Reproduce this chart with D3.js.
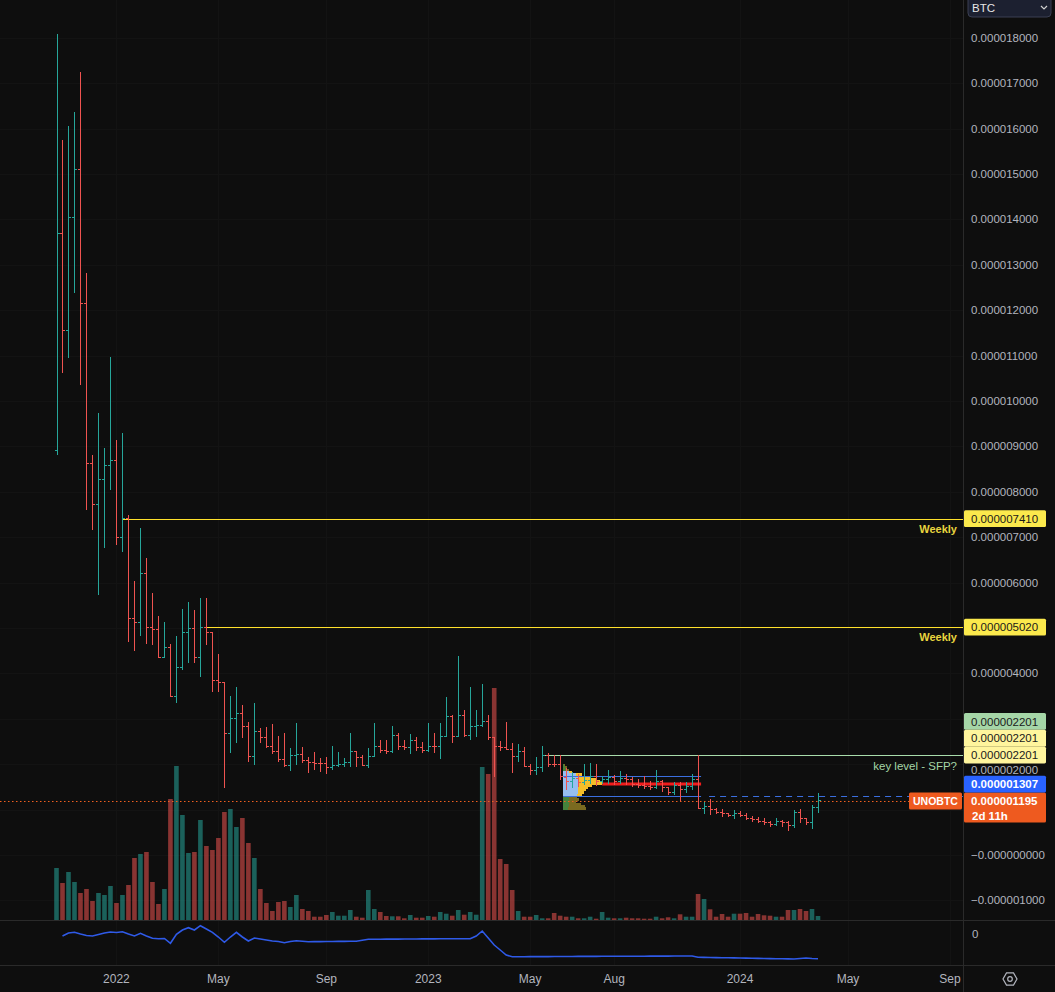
<!DOCTYPE html>
<html><head><meta charset="utf-8">
<script src="https://cdn.jsdelivr.net/npm/d3@7/dist/d3.min.js"></script>
<style>
html,body{margin:0;padding:0;background:#0e0e0e;overflow:hidden}
svg{display:block}
text{font-family:"Liberation Sans",Arial,sans-serif}
</style></head><body>
<svg id="c" width="1055" height="992"></svg>
<script>
// ---------- DATA (prices in units of 1e-6 BTC, weekly bars) ----------
const firstWeek = "2021-10-25";
const open = [8.92,13.70,11.56,14.05,15.11,12.14,8.63,7.71,8.26,8.59,8.70,7.00,7.42,5.22,5.13,6.19,5.02,4.96,4.36,4.56,
3.50,4.12,4.91,5.00,4.36,5.02,4.89,3.85,3.81,2.67,3.00,3.11,2.82,2.16,2.71,2.58,2.40,2.29,2.11,1.98,
2.20,2.22,2.09,2.03,2.02,2.01,1.92,1.98,2.00,2.03,2.27,2.14,1.98,2.16,2.38,2.31,2.27,2.64,2.38,2.36,
2.53,2.36,2.31,2.40,2.38,2.62,3.04,2.60,3.08,2.64,2.82,2.86,2.93,2.58,2.38,2.36,2.33,2.18,2.27,1.96,
1.87,1.92,2.20,2.00,1.99,1.718,1.608,1.696,1.586,1.630,1.740,1.608,1.652,1.718,1.608,1.696,1.652,1.542,1.520,1.498,
1.476,1.608,1.476,1.366,1.520,1.432,1.498,1.652,1.035,1.079,1.013,0.947,0.925,0.881,0.925,0.881,0.793,0.782,0.727,0.705,
0.661,0.727,0.705,0.639,0.947,0.793,0.705,1.057];
const high = [18.08,15.75,16.06,16.37,17.25,12.82,8.81,9.74,8.96,10.97,9.14,9.30,7.49,6.04,7.20,6.54,5.77,5.26,5.13,4.65,
4.82,5.42,5.57,5.40,5.66,5.66,4.91,4.43,3.81,3.50,3.70,3.30,2.93,3.35,2.80,2.82,2.89,2.62,2.69,2.36,
2.91,2.38,2.16,2.27,2.14,2.16,2.40,2.27,2.14,2.69,2.29,2.20,2.36,2.91,2.53,2.53,2.84,2.69,2.53,2.67,
2.60,2.49,2.91,2.69,2.91,3.48,3.08,4.38,3.19,3.70,3.19,3.77,3.08,2.58,2.51,2.93,2.47,2.44,2.38,2.00,
2.16,2.40,2.25,2.20,2.20,1.916,1.828,1.784,2.004,2.026,2.004,1.740,1.872,1.762,1.850,1.784,1.718,1.674,1.740,1.630,
1.872,1.652,1.498,1.608,1.608,1.608,1.784,2.203,1.167,1.233,1.035,1.013,0.925,0.991,0.969,0.925,0.859,0.837,0.815,0.749,
0.815,0.771,0.749,0.991,1.013,0.815,1.101,1.366];
const low = [8.81,10.62,10.95,12.38,10.35,7.60,7.16,5.73,6.76,8.04,6.83,6.67,4.69,4.49,4.82,4.65,4.63,4.34,4.34,3.48,
3.35,4.07,4.23,4.23,3.92,4.63,3.59,3.59,1.48,2.25,2.47,2.58,2.05,1.98,2.47,2.36,2.22,2.05,1.94,1.85,
1.98,2.03,1.81,1.87,1.83,1.78,1.87,1.94,1.94,1.94,1.94,1.96,1.92,2.16,2.25,2.22,2.25,2.31,2.31,2.22,
2.29,2.25,2.27,2.25,2.11,2.60,2.47,2.60,2.60,2.53,2.60,2.82,2.53,1.72,2.29,2.31,1.81,2.05,1.94,1.76,
1.76,1.83,1.94,1.94,1.65,1.432,1.476,1.498,1.542,1.564,1.520,1.564,1.564,1.542,1.564,1.542,1.498,1.476,1.454,1.432,
1.454,1.388,1.322,1.322,1.167,1.366,1.432,1.013,0.903,0.881,0.903,0.837,0.837,0.793,0.837,0.771,0.727,0.705,0.661,0.617,
0.639,0.617,0.529,0.595,0.705,0.661,0.573,0.925];
const close = [13.70,11.56,14.05,15.11,12.14,8.63,7.71,8.26,8.59,8.70,7.00,7.42,5.22,5.13,6.19,5.02,4.96,4.36,4.56,3.50,
4.12,4.91,5.00,4.36,5.02,4.89,3.85,3.81,2.67,3.00,3.11,2.82,2.16,2.71,2.58,2.40,2.29,2.11,1.98,2.20,
2.22,2.09,2.03,2.02,2.01,1.92,1.98,2.00,2.03,2.27,2.14,1.98,2.16,2.38,2.31,2.27,2.64,2.38,2.36,2.53,
2.36,2.31,2.40,2.38,2.62,3.04,2.60,3.08,2.64,2.82,2.86,2.93,2.58,2.38,2.36,2.33,2.18,2.27,1.96,1.87,
1.92,2.20,2.00,1.99,1.72,1.608,1.696,1.586,1.630,1.740,1.608,1.652,1.718,1.608,1.696,1.652,1.542,1.520,1.498,1.476,
1.608,1.476,1.366,1.520,1.432,1.498,1.652,1.035,1.079,1.013,0.947,0.925,0.881,0.925,0.881,0.793,0.782,0.727,0.705,0.661,
0.727,0.705,0.639,0.947,0.793,0.705,1.057,1.195];
const volume = [53,38,49,39,28,32,20,28,26,35,18,26,36,63,67,69,39,17,32,122,
155,106,68,69,101,75,71,83,109,112,94,103,78,63,32,18,10,19,20,14,
26,12,10,4.3,4.3,6,9,5.3,5.3,11,4.3,3.3,31,12,9,5,4.7,4.7,2.7,6,
3.3,3.3,5,4.3,9,7.3,5.3,11,6.3,9,6.3,154,147,233,62,57,31,10,4.3,4.3,
6,2.7,2.7,8,5.3,4.3,4.3,2.7,2.7,4.3,2.3,9,3.3,2.7,2.7,3.3,2.7,2.7,2.3,2.3,
4.3,2.7,3.7,2.7,6.7,4.3,4.3,27,22,11.7,4.3,7,4.3,7.3,7.3,8,4.3,7,5.7,5.3,
4.3,4.3,11,11,12,10,12,5];
const indicator = [null,-0.30,0.00,0.07,-0.10,-0.25,-0.30,-0.15,0.00,0.10,0.05,0.13,-0.10,-0.30,-0.03,-0.30,-0.53,-0.57,-0.55,-1.03,
-0.13,0.30,0.53,0.30,0.73,0.40,0.07,-0.40,-0.93,-0.40,0.07,-0.40,-0.80,-0.50,-0.60,-0.70,-0.80,-0.85,-0.97,-0.85,
-0.77,-0.82,-0.87,-0.86,-0.86,-0.85,-0.85,-0.84,-0.84,-0.83,-0.83,-0.73,-0.63,-0.62,-0.62,-0.61,-0.61,-0.61,-0.60,-0.60,
-0.60,-0.59,-0.59,-0.59,-0.58,-0.58,-0.58,-0.57,-0.57,-0.57,-0.30,0.20,-0.50,-1.20,-1.70,-2.20,-2.37,-2.37,-2.37,-2.36,
-2.36,-2.36,-2.36,-2.35,-2.35,-2.35,-2.35,-2.34,-2.34,-2.34,-2.34,-2.33,-2.33,-2.33,-2.33,-2.32,-2.32,-2.32,-2.32,-2.31,
-2.31,-2.31,-2.31,-2.30,-2.30,-2.30,-2.30,-2.43,-2.44,-2.45,-2.46,-2.47,-2.48,-2.49,-2.50,-2.51,-2.52,-2.54,-2.55,-2.56,
-2.57,-2.58,-2.59,-2.60,-2.55,-2.50,-2.55,-2.57];
const priceTicks = d3.range(-1, 19);
const timeTickDates = ["2022-01-03","2022-05-02","2022-09-05","2023-01-02","2023-05-01","2023-08-07","2024-01-01","2024-05-06","2024-09-02"];
const timeTickLabels = ["2022","May","Sep","2023","May","Aug","2024","May","Sep"];
const weeklyLevels = [7.41, 5.02];
const weeklyStartBar = [11, 25];
const keyLevel = 2.201, keyStartBar = 81;
const profileStartBar = 85, profileEndBar = 107;
const vah = 1.74, poc = 1.564, val = 1.307, lastPrice = 1.195;
const profileLevels = [1.975,1.925,1.875,1.825,1.775,1.725,1.675,1.625,1.575,1.525,1.475,1.425,1.375,1.325,1.275,1.225,1.175,1.125,1.075,1.025];
const profileUp   = [1,2,3,6,13,15,15,15,15,15,15,15,15,14,6,6,6,6,6,5];
const profileDown = [1,2,3,3,6,12,18,22,24,14,10,8,6,5,8,10,7,12,16,18];
const profileInVA = [0,0,0,1,1,1,1,1,1,1,1,1,1,1,0,0,0,0,0,0];

// ---------- LAYOUT ----------
const W = 1055, H = 992, plotR = 963, paneB = 920, indB = 965;
const UP = "#26a69a", DN = "#ef5350", BG = "#0e0e0e", AX = "#b2b5be", SEP = "#2a2a2a";
const svg = d3.select("#c");
svg.append("rect").attr("width", W).attr("height", H).attr("fill", BG);

const parse = d3.utcParse("%Y-%m-%d");
const d0 = parse(firstWeek);
const dates = open.map((_, i) => d3.utcDay.offset(d0, 7 * i));
const x = d3.scaleUtc().domain([dates[0], dates[dates.length - 1]]).range([56.5, 818]);
const y = d3.scaleLinear().domain([0, 18]).range([855, 37.8]);
const yVol = d3.scaleLinear().domain([0, d3.max(volume)]).range([921, 688]);
const yInd = d3.scaleLinear().domain([-3, 1]).range([963, 923]);
const fmt = v => (v <= 0 ? "\u2212" : "") + Math.abs(v * 1e-6).toFixed(9);

const defs = svg.append("defs");
defs.append("clipPath").attr("id", "main").append("rect").attr("x", 0).attr("y", 0).attr("width", plotR).attr("height", paneB);
defs.append("clipPath").attr("id", "ind").append("rect").attr("x", 0).attr("y", paneB + 1).attr("width", plotR).attr("height", indB - paneB - 1);

// grid
const grid = svg.append("g").attr("stroke", "#131313").attr("shape-rendering", "crispEdges");
timeTickDates.forEach(t => {
  const xx = Math.round(x(parse(t))) + 0.5;
  grid.append("line").attr("x1", xx).attr("x2", xx).attr("y1", 0).attr("y2", indB);
});
priceTicks.forEach(v => {
  const yy = Math.round(y(v)) + 0.5;
  grid.append("line").attr("x1", 0).attr("x2", plotR).attr("y1", yy).attr("y2", yy);
});

const main = svg.append("g").attr("clip-path", "url(#main)");

// volume
main.append("g").selectAll("rect").data(volume).join("rect")
  .attr("x", (d, i) => x(dates[i]) - 2.3).attr("width", 4.6)
  .attr("y", d => yVol(d)).attr("height", d => yVol(0) - yVol(d))
  .attr("fill", (d, i) => close[i] >= open[i] ? "rgba(38,166,154,0.55)" : "rgba(239,83,80,0.55)");

// volume profile
const pX0 = x(dates[profileStartBar]) - 3, pX1 = x(dates[profileEndBar]) + 3;
const pW = d3.scaleLinear().domain([0, d3.max(profileUp.map((u, i) => u + profileDown[i]))]).range([0, 39]);
const prof = main.append("g").attr("shape-rendering", "crispEdges");
profileLevels.forEach((lv, i) => {
  const yt = Math.round(y(lv + 0.025)), yb = Math.round(y(lv - 0.025));
  const va = profileInVA[i] === 1;
  prof.append("rect").attr("x", pX0).attr("y", yt).attr("width", pW(profileUp[i])).attr("height", yb - yt)
    .attr("fill", va ? "#96bef0" : "#46823c");
  prof.append("rect").attr("x", pX0 + pW(profileUp[i])).attr("y", yt).attr("width", pW(profileDown[i])).attr("height", yb - yt)
    .attr("fill", va ? "#f5be28" : "#7a6a20");
});
const pocIdx = d3.maxIndex(profileUp.map((u, i) => u + profileDown[i]));
main.append("line").attr("x1", pX0 + pW(profileUp[pocIdx] + profileDown[pocIdx])).attr("x2", pX1)
  .attr("y1", y(poc)).attr("y2", y(poc)).attr("stroke", "#f21c1c").attr("stroke-width", 3);
[vah, val].forEach(v => main.append("line").attr("x1", pX0).attr("x2", pX1)
  .attr("y1", Math.round(y(v)) + 0.5).attr("y2", Math.round(y(v)) + 0.5).attr("stroke", "#3b6fe0").attr("stroke-width", 1.2));
main.append("line").attr("x1", pX1 + 8).attr("x2", plotR).attr("y1", Math.round(y(val)) + 0.5).attr("y2", Math.round(y(val)) + 0.5)
  .attr("stroke", "#3b6fe0").attr("stroke-width", 1.2).attr("stroke-dasharray", "6,5");

// horizontal levels
weeklyLevels.forEach((v, k) => {
  const yy = Math.round(y(v)) + 0.5;
  main.append("line").attr("x1", x(dates[weeklyStartBar[k]])).attr("x2", plotR).attr("y1", yy).attr("y2", yy)
    .attr("stroke", "#ffe12b").attr("stroke-width", 1);
  svg.append("text").attr("x", plotR - 6).attr("y", yy + 9).attr("text-anchor", "end").attr("dominant-baseline", "central")
    .attr("font-size", 11).attr("font-weight", "bold").attr("fill", "#e8d43e").text("Weekly");
});
{
  const yy = Math.round(y(keyLevel)) + 0.5;
  main.append("line").attr("x1", x(dates[keyStartBar])).attr("x2", plotR).attr("y1", yy).attr("y2", yy)
    .attr("stroke", "#a8dcab").attr("stroke-width", 1);
  svg.append("text").attr("x", plotR - 6).attr("y", yy + 10).attr("text-anchor", "end").attr("dominant-baseline", "central")
    .attr("font-size", 11.5).attr("fill", "#a5d6a7").text("key level - SFP?");
}

// price bars
const bars = main.append("g").attr("shape-rendering", "crispEdges").attr("stroke-width", 1);
open.forEach((o, i) => {
  const xx = Math.round(x(dates[i])) + 0.5;
  const col = close[i] >= o ? UP : DN;
  bars.append("path").attr("stroke", col).attr("fill", "none")
    .attr("d", `M${xx},${y(high[i])}V${y(low[i])}M${xx - 2.5},${y(o)}H${xx}M${xx},${y(close[i])}H${xx + 2.5}`);
});

// last price dotted line
main.append("line").attr("x1", 0).attr("x2", plotR).attr("y1", Math.round(y(lastPrice)) + 0.5).attr("y2", Math.round(y(lastPrice)) + 0.5)
  .attr("stroke", "#f0601f").attr("stroke-width", 1).attr("stroke-dasharray", "1.5,2.5");

// indicator pane
const line = d3.line().defined(d => d != null).x((d, i) => x(dates[i])).y(d => yInd(d));
svg.append("g").attr("clip-path", "url(#ind)").append("path").datum(indicator)
  .attr("d", line).attr("fill", "none").attr("stroke", "#2f5ae8").attr("stroke-width", 1.6);

// separators
const sep = svg.append("g").attr("stroke", SEP).attr("shape-rendering", "crispEdges");
sep.append("line").attr("x1", 0).attr("x2", W).attr("y1", paneB + 0.5).attr("y2", paneB + 0.5);
sep.append("line").attr("x1", 0).attr("x2", W).attr("y1", indB + 0.5).attr("y2", indB + 0.5);
sep.append("line").attr("x1", plotR + 0.5).attr("x2", plotR + 0.5).attr("y1", 0).attr("y2", H);

// ----- price-scale label boxes (layout) -----
const BH = 16.8;
const lastTop = y(lastPrice) - 8.3;
const boxes = [];
weeklyLevels.forEach(v => boxes.push({yc: y(v), h: BH, bg: "#fbe94c", fg: "#1a1a1a", lines: [fmt(v)]}));
["#a5d6a7", "#fff59d", "#fff59d"].forEach((c, k) => boxes.push({yc: y(keyLevel) - (2 - k) * BH, h: BH, bg: c, fg: "#1a1a1a", lines: [fmt(keyLevel)]}));
boxes.push({yc: lastTop + 15, h: 30, bg: "#ee5a1f", fg: "#ffffff", lines: [fmt(lastPrice), "2d 11h"], bold: true});
boxes.push({yc: lastTop - BH / 2, h: BH, bg: "#2962ff", fg: "#ffffff", lines: [fmt(val)], bold: true});

// price axis tick labels (hidden where a label box covers them; partly covered ones pushed just below the box)
const ax = svg.append("g").attr("font-size", 11.5).attr("fill", AX);
priceTicks.forEach(v => {
  let yy = y(v);
  if (boxes.some(b => Math.abs(yy - b.yc) < b.h / 2)) return;
  boxes.forEach(b => { const bot = b.yc + b.h / 2; if (yy > bot && yy - bot < 6.5) yy = bot + 6.5; });
  ax.append("text").attr("x", 971).attr("y", yy).attr("dominant-baseline", "central").text(fmt(v));
});
ax.append("text").attr("x", 972).attr("y", 934).attr("dominant-baseline", "central").text("0");

// time axis
timeTickDates.forEach((t, k) => {
  svg.append("text").attr("x", x(parse(t))).attr("y", 979).attr("text-anchor", "middle").attr("dominant-baseline", "central")
    .attr("font-size", 12).attr("fill", AX).text(timeTickLabels[k]);
});

boxes.forEach(b => {
  const g = svg.append("g");
  g.append("rect").attr("x", 964).attr("y", b.yc - b.h / 2).attr("width", 82).attr("height", b.h).attr("rx", 1.5).attr("fill", b.bg);
  b.lines.forEach((t, k) => g.append("text").attr("x", 971 + k).attr("y", b.yc - b.h / 2 + 8.5 + k * 15).attr("dominant-baseline", "central")
    .attr("font-size", 11.5).attr("font-weight", b.bold ? "bold" : "normal").attr("fill", b.fg).text(t));
});
// symbol label
svg.append("rect").attr("x", 909).attr("y", lastTop).attr("width", 53).attr("height", 17).attr("rx", 1.5).attr("fill", "#ee5a1f");
svg.append("text").attr("x", 935.5).attr("y", lastTop + 8.5).attr("text-anchor", "middle").attr("dominant-baseline", "central")
  .attr("font-size", 10.5).attr("font-weight", "bold").attr("fill", "#fff").text("UNOBTC");

// BTC dropdown
svg.append("path").attr("d", "M968,-2H1051V13Q1051,17 1047,17H972Q968,17 968,13Z").attr("fill", "#1c2030").attr("stroke", "#3a3f52");
svg.append("text").attr("x", 972).attr("y", 8).attr("dominant-baseline", "central").attr("font-size", 11.5).attr("fill", "#e6e6e6").text("BTC");
svg.append("path").attr("d", "M1041,6L1044,9L1047,6").attr("fill", "none").attr("stroke", "#d0d0d0").attr("stroke-width", 1.2);

// settings icon
const hex = d3.range(6).map(k => { const a = Math.PI / 3 * k; return [1010 + 7 * Math.cos(a), 979 + 7 * Math.sin(a)]; });
svg.append("path").attr("d", "M" + hex.join("L") + "Z").attr("fill", "none").attr("stroke", AX).attr("stroke-width", 1.2);
svg.append("circle").attr("cx", 1010).attr("cy", 979).attr("r", 2.3).attr("fill", "none").attr("stroke", AX).attr("stroke-width", 1.2);
</script>
</body></html>
